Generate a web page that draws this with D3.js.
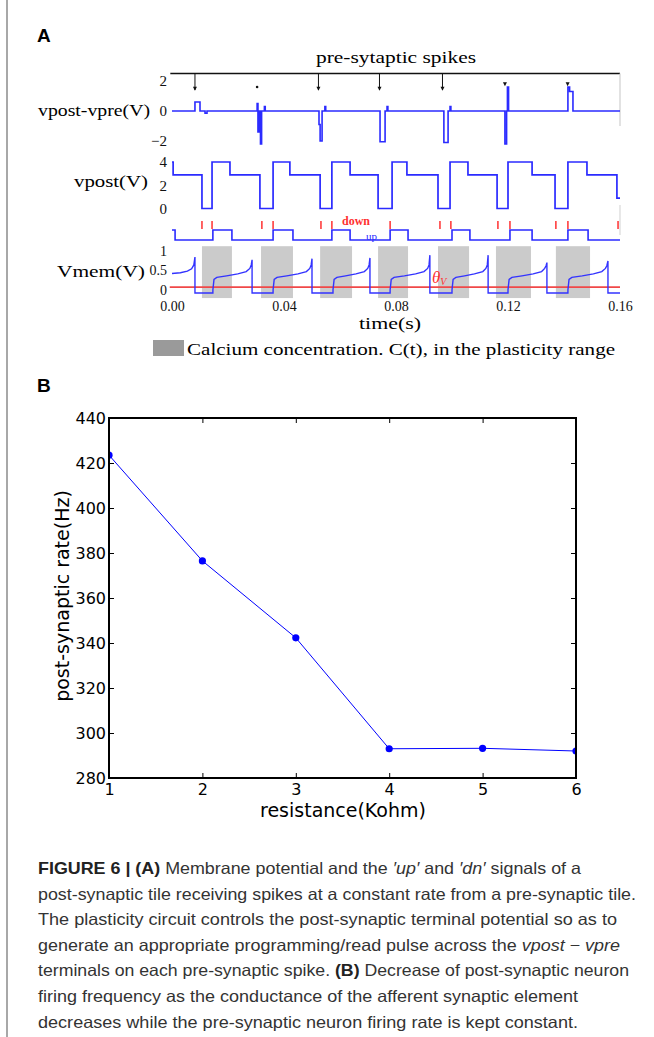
<!DOCTYPE html>
<html>
<head>
<meta charset="utf-8">
<script src="https://cdn.jsdelivr.net/npm/d3@7"></script>
<style>
body { margin: 0; background: #fff; }
svg { display: block; }
</style>
</head>
<body>
<div id="figure"></div>
<script>
// ---------- panel A data (time in s) ----------
const timeTicks = [0.00, 0.04, 0.08, 0.12, 0.16];
const diffTicks = [-2, 0, 2];
const postTicks = [0, 2, 4];
const memTicks = [0, 0.5, 1];

const spikeTimes = [0.0082, 0.0304, 0.0523, 0.0741, 0.0966, 0.1189, 0.1413];
const spikeKinds = ["arrow", "dot", "arrow", "arrow", "arrow", "head", "head"];

// vpost - vpre (V)
const vdiffTrace = [
  [0, 0], [0.0082, 0], [0.0082, 0.6], [0.0100, 0.6], [0.0100, 0], [0.0118, 0], [0.0118, -0.15], [0.0125, -0.15], [0.0125, 0],
  [0.0304, 0], [0.0304, 0.5], [0.0307, 0.5], [0.0307, -1.4], [0.0311, -1.4], [0.0311, 0], [0.0316, 0], [0.0316, -2.2], [0.0320, -2.2], [0.0320, 0],
  [0.0330, 0], [0.0330, 0.3], [0.0333, 0.3], [0.0333, 0],
  [0.0525, 0], [0.0525, -0.9], [0.0529, -0.9], [0.0529, -2.0], [0.0536, -2.0], [0.0536, 0], [0.0546, 0], [0.0546, 0.3], [0.0549, 0.3], [0.0549, 0],
  [0.0743, 0], [0.0743, -2.05], [0.0761, -2.05], [0.0761, 0], [0.0768, 0], [0.0768, 0.3], [0.0771, 0.3], [0.0771, 0],
  [0.0971, 0], [0.0971, -2.1], [0.0986, -2.1], [0.0986, 0], [0.0993, 0], [0.0993, 0.3], [0.0996, 0.3], [0.0996, 0],
  [0.1189, 0], [0.1189, -2.2], [0.1195, -2.2], [0.1195, 0], [0.1198, 0], [0.1198, 1.6], [0.1202, 1.6], [0.1202, 0],
  [0.1414, 0], [0.1414, 1.6], [0.1420, 1.6], [0.1420, 1.3], [0.1432, 1.3], [0.1432, 0], [0.1600, 0]
];

// vpost (V), level holds from each time until the next one
const vpostTimes = [0, 0.0004, 0.0107, 0.0143, 0.0207, 0.0314, 0.0361, 0.0421, 0.0529, 0.0571, 0.0636, 0.0736, 0.0786,
  0.0839, 0.0950, 0.0993, 0.1057, 0.1161, 0.1200, 0.1286, 0.1368, 0.1414, 0.1482, 0.1589, 0.1600];
const vpostLevels = [4, 2.9, 0, 4, 2.9, 0, 4, 2.9, 0, 4, 2.9, 0, 4,
  2.9, 0, 4, 2.9, 0, 4, 2.9, 0, 4, 2.9, 0.9, 0.9];

// 'up' logic signal
const upTimes = [0, 0.0011, 0.0146, 0.0214, 0.0361, 0.0432, 0.0571, 0.0636, 0.0779, 0.0843, 0.1000, 0.1064,
  0.1207, 0.1286, 0.1414, 0.1486, 0.1600];
const upLevels = [1, 0, 1, 0, 1, 0, 1, 0, 1, 0, 1, 0, 1, 0, 1, 0, 0];

// 'down' pulses
const downTimes = [0.0107, 0.0143, 0.0321, 0.0361, 0.0532, 0.0571, 0.0779, 0.0957, 0.0996, 0.1164, 0.1207, 0.1371, 0.1414, 0.1593];

// calcium in plasticity range
const calciumBands = [[0.0107, 0.0214], [0.0318, 0.0432], [0.0529, 0.0643], [0.0736, 0.0843],
  [0.0950, 0.1061], [0.1157, 0.1282], [0.1371, 0.1493]];

// membrane potential Vmem (V)
const vmemTrace = [
  [0, 0.50], [0.0030, 0.52], [0.0055, 0.56], [0.0070, 0.62], [0.0078, 0.72], [0.0082, 0.92], [0.0082, 0],
  [0.0146, 0], [0.0146, 0.08], [0.0150, 0.35], [0.0160, 0.40], [0.0195, 0.44], [0.0235, 0.49], [0.0265, 0.55], [0.0278, 0.63], [0.0283, 0.72], [0.0286, 0.85], [0.0286, 0],
  [0.0361, 0], [0.0361, 0.08], [0.0365, 0.35], [0.0375, 0.40], [0.0410, 0.44], [0.0450, 0.49], [0.0480, 0.55], [0.0492, 0.63], [0.0497, 0.72], [0.0500, 0.88], [0.0500, 0],
  [0.0575, 0], [0.0575, 0.08], [0.0579, 0.35], [0.0589, 0.40], [0.0620, 0.44], [0.0657, 0.49], [0.0687, 0.55], [0.0699, 0.63], [0.0704, 0.72], [0.0707, 0.90], [0.0707, 0],
  [0.0779, 0], [0.0779, 0.08], [0.0783, 0.35], [0.0793, 0.40], [0.0830, 0.44], [0.0870, 0.49], [0.0900, 0.55], [0.0913, 0.63], [0.0918, 0.72], [0.0921, 0.97], [0.0921, 0],
  [0.1000, 0], [0.1000, 0.08], [0.1004, 0.35], [0.1014, 0.40], [0.1045, 0.44], [0.1080, 0.49], [0.1110, 0.55], [0.1121, 0.63], [0.1126, 0.72], [0.1129, 0.97], [0.1129, 0],
  [0.1200, 0], [0.1200, 0.08], [0.1204, 0.35], [0.1214, 0.40], [0.1250, 0.44], [0.1290, 0.49], [0.1320, 0.55], [0.1331, 0.63], [0.1336, 0.70], [0.1339, 0.78], [0.1339, 0],
  [0.1414, 0], [0.1414, 0.08], [0.1418, 0.35], [0.1428, 0.40], [0.1465, 0.44], [0.1505, 0.49], [0.1535, 0.55], [0.1548, 0.63], [0.1553, 0.70], [0.1557, 0.82], [0.1557, 0], [0.1600, 0]
];
const thetaV = 0.15;

// ---------- panel B data ----------
const resistance = [1, 2, 3, 4, 5, 6];
const postRate = [423.5, 376.5, 342.3, 293.0, 293.2, 292.0];
const resTicks = [1, 2, 3, 4, 5, 6];
const rateTicks = [280, 300, 320, 340, 360, 380, 400, 420, 440];

// ---------- caption ----------
const captionLines = [
  [["FIGURE 6 | (A)", "b"], [" Membrane potential and the ", ""], ["\u2032up\u2032", "i"], [" and ", ""], ["\u2032dn\u2032", "i"], [" signals of a", ""]],
  [["post-synaptic tile receiving spikes at a constant rate from a pre-synaptic tile.", ""]],
  [["The plasticity circuit controls the post-synaptic terminal potential so as to", ""]],
  [["generate an appropriate programming/read pulse across the ", ""], ["vpost \u2212 vpre", "i"]],
  [["terminals on each pre-synaptic spike. ", ""], ["(B)", "b"], [" Decrease of post-synaptic neuron", ""]],
  [["firing frequency as the conductance of the afferent synaptic element", ""]],
  [["decreases while the pre-synaptic neuron firing rate is kept constant.", ""]]
];
const captionWidths = [543, 598, 579, 582, 591, 540, 540];

const serif = "'Liberation Serif', 'Times New Roman', serif";
const sans = "'DejaVu Sans', sans-serif";

const svg = d3.select("#figure").append("svg")
    .attr("width", 654)
    .attr("height", 1037);

// page rule on the left
svg.append("line")
    .attr("x1", 7).attr("x2", 7).attr("y1", 0).attr("y2", 1037)
    .attr("stroke", "#a8a8a8").attr("stroke-width", 2);

function styleTicks(sel, size, family) {
    sel.select(".domain").remove();
    sel.attr("font-size", size).attr("font-family", family);
    sel.selectAll("text")
        .style("font-size", size + "px")
        .style("font-family", family)
        .attr("fill", "#111");
}

function drawPanelA() {
    const x = d3.scaleLinear().domain([0, 0.16]).range([172, 620]);
    const yDiff = d3.scaleLinear().domain([-2.5, 2.5]).range([148.5, 73.5]);
    const yPost = d3.scaleLinear().domain([0, 4]).range([208.5, 162]);
    const yLogic = d3.scaleLinear().domain([0, 2]).range([240, 220]);
    const yMem = d3.scaleLinear().domain([0, 1]).range([293, 254]);
    const blue = "#2b2bff", red = "#ff3030";

    const g = svg.append("g");

    g.append("text").attr("x", 37).attr("y", 42)
        .attr("font-family", "'Liberation Sans', Arial, sans-serif").attr("font-weight", "bold")
        .attr("font-size", 19).text("A");

    // calcium bands
    g.selectAll(".band").data(calciumBands).enter().append("rect")
        .attr("x", d => x(d[0]))
        .attr("width", d => x(d[1]) - x(d[0]))
        .attr("y", yMem(1.2))
        .attr("height", yMem(-0.13) - yMem(1.2))
        .attr("fill", "#cbcbcb");

    // spike header line
    g.append("line").attr("x1", x(-0.0006)).attr("x2", x(0.16))
        .attr("y1", yDiff(2.5)).attr("y2", yDiff(2.5))
        .attr("stroke", "#111").attr("stroke-width", 1.3);
    g.append("line").attr("x1", x(0.16)).attr("x2", x(0.16))
        .attr("y1", yDiff(2.5)).attr("y2", yDiff(-1))
        .attr("stroke", "#cfcfcf").attr("stroke-width", 1.2);
    g.append("line").attr("x1", x(0.16)).attr("x2", x(0.16))
        .attr("y1", yPost(0.3)).attr("y2", yLogic(0.5))
        .attr("stroke", "#d8d8d8").attr("stroke-width", 1.2);

    const spikes = g.selectAll(".spike").data(spikeTimes.map((t, i) => ({t: t, kind: spikeKinds[i]})))
        .enter().append("g");
    spikes.filter(d => d.kind === "arrow").append("line")
        .attr("x1", d => x(d.t)).attr("x2", d => x(d.t))
        .attr("y1", yDiff(2.5)).attr("y2", yDiff(1.4))
        .attr("stroke", "#111").attr("stroke-width", 1);
    spikes.filter(d => d.kind !== "dot").append("path")
        .attr("d", d => {
            const cx = x(d.t), tip = yDiff(d.kind === "arrow" ? 1.35 : 1.65);
            return `M${cx - 2},${tip - 4}L${cx + 2},${tip - 4}L${cx},${tip}Z`;
        })
        .attr("fill", "#111");
    spikes.filter(d => d.kind === "dot").append("circle")
        .attr("cx", d => x(d.t)).attr("cy", yDiff(1.6)).attr("r", 1.3).attr("fill", "#111");

    g.append("text").attr("x", 396).attr("y", 63).attr("text-anchor", "middle")
        .attr("font-family", serif).attr("font-size", 17)
        .attr("textLength", 160).attr("lengthAdjust", "spacingAndGlyphs")
        .text("pre-sytaptic spikes");

    // traces
    const line = (yScale) => d3.line().x(d => x(d[0])).y(d => yScale(d[1]));
    const stepLine = (yScale) => d3.line().x(d => x(d[0])).y(d => yScale(d[1])).curve(d3.curveStepAfter);

    g.append("path").datum(vdiffTrace)
        .attr("d", line(yDiff)).attr("fill", "none")
        .attr("stroke", blue).attr("stroke-width", 1.6);

    g.append("path").datum(vpostTimes.map((t, i) => [t, vpostLevels[i]]))
        .attr("d", stepLine(yPost)).attr("fill", "none")
        .attr("stroke", blue).attr("stroke-width", 1.7);

    g.append("path").datum(upTimes.map((t, i) => [t, upLevels[i]]))
        .attr("d", stepLine(yLogic)).attr("fill", "none")
        .attr("stroke", blue).attr("stroke-width", 1.6);

    g.selectAll(".down").data(downTimes).enter().append("line")
        .attr("x1", d => x(d)).attr("x2", d => x(d))
        .attr("y1", yLogic(1.1)).attr("y2", yLogic(1.9))
        .attr("stroke", red).attr("stroke-width", 1.5);

    g.append("text").attr("x", 342).attr("y", 225)
        .attr("font-family", serif).attr("font-size", 12).attr("font-weight", "bold")
        .attr("fill", red).text("down");
    g.append("text").attr("x", 366).attr("y", 240)
        .attr("font-family", serif).attr("font-size", 11)
        .attr("fill", blue).text("up");

    g.append("line").attr("x1", x(-0.0008)).attr("x2", x(0.16))
        .attr("y1", yMem(thetaV)).attr("y2", yMem(thetaV))
        .attr("stroke", "#f04848").attr("stroke-width", 1.8);

    g.append("path").datum(vmemTrace)
        .attr("d", line(yMem)).attr("fill", "none")
        .attr("stroke", "#3333ff").attr("stroke-width", 1.4);

    const th = g.append("text").attr("x", 432).attr("y", 283)
        .attr("font-family", serif).attr("font-style", "italic")
        .attr("fill", red).attr("font-size", 17);
    th.append("tspan").text("\u03b8");
    th.append("tspan").attr("font-size", 10).attr("dy", 2).text("V");

    // tick labels
    g.append("g").attr("transform", "translate(167,0)")
        .call(d3.axisLeft(yDiff).tickValues(diffTicks).tickSize(0).tickPadding(0).tickFormat(d3.format("d")))
        .call(s => styleTicks(s, 15, serif));
    g.append("g").attr("transform", "translate(167,0)")
        .call(d3.axisLeft(yPost).tickValues(postTicks).tickSize(0).tickPadding(0).tickFormat(d3.format("d")))
        .call(s => styleTicks(s, 15, serif));
    g.append("g").attr("transform", "translate(167,-3)")
        .call(d3.axisLeft(yMem).tickValues(memTicks).tickSize(0).tickPadding(0).tickFormat(d3.format("")))
        .call(s => styleTicks(s, 14, serif));
    g.append("g").attr("transform", "translate(0,301)")
        .call(d3.axisBottom(x).tickValues(timeTicks).tickSize(0).tickPadding(0).tickFormat(d3.format(".2f")))
        .call(s => styleTicks(s, 14, serif));

    // axis titles
    const titles = [
        {text: "vpost-vpre(V)", x: 150, y: 116, w: 112},
        {text: "vpost(V)", x: 148, y: 187, w: 74},
        {text: "Vmem(V)", x: 145, y: 277, w: 88}
    ];
    g.selectAll(".ytitle").data(titles).enter().append("text")
        .attr("x", d => d.x).attr("y", d => d.y).attr("text-anchor", "end")
        .attr("font-family", serif).attr("font-size", 17)
        .attr("textLength", d => d.w).attr("lengthAdjust", "spacingAndGlyphs")
        .text(d => d.text);

    g.append("text").attr("x", 390).attr("y", 329).attr("text-anchor", "middle")
        .attr("font-family", serif).attr("font-size", 17)
        .attr("textLength", 62).attr("lengthAdjust", "spacingAndGlyphs")
        .text("time(s)");

    // legend
    g.append("rect").attr("x", 153).attr("y", 340).attr("width", 31).attr("height", 16).attr("fill", "#9a9a9a");
    g.append("text").attr("x", 187).attr("y", 355)
        .attr("font-family", serif).attr("font-size", 17)
        .attr("textLength", 428).attr("lengthAdjust", "spacingAndGlyphs")
        .text("Calcium concentration. C(t), in the plasticity range");
}

function drawPanelB() {
    const x = d3.scaleLinear().domain([1, 6]).range([109, 576]);
    const y = d3.scaleLinear().domain([280, 440]).range([778, 418]);

    const g = svg.append("g");

    g.append("text").attr("x", 37).attr("y", 392)
        .attr("font-family", "'Liberation Sans', Arial, sans-serif").attr("font-weight", "bold")
        .attr("font-size", 19).text("B");

    g.append("clipPath").attr("id", "plotClip").append("rect")
        .attr("x", 109).attr("y", 418).attr("width", 467).attr("height", 360);

    const data = resistance.map((r, i) => ({r: r, rate: postRate[i]}));
    const plot = g.append("g").attr("clip-path", "url(#plotClip)");
    plot.append("path").datum(data)
        .attr("d", d3.line().x(d => x(d.r)).y(d => y(d.rate)))
        .attr("fill", "none").attr("stroke", "#0000ff").attr("stroke-width", 1);
    plot.selectAll(".dot").data(data).enter().append("circle")
        .attr("cx", d => x(d.r)).attr("cy", d => y(d.rate)).attr("r", 3.6)
        .attr("fill", "#0000ff");

    const tickStyle = s => {
        s.select(".domain").remove();
        s.selectAll("line").attr("stroke", "#000").attr("stroke-width", 1);
        s.attr("font-size", 16).attr("font-family", sans);
        s.selectAll("text").style("font-size", "16px").style("font-family", sans).attr("fill", "#000");
    };
    g.append("g").attr("transform", "translate(0,778)")
        .call(d3.axisBottom(x).tickValues(resTicks).tickSizeInner(-5).tickSizeOuter(0).tickPadding(6).tickFormat(d3.format("d")))
        .call(tickStyle);
    g.append("g").attr("transform", "translate(0,418)")
        .call(d3.axisTop(x).tickValues(resTicks).tickSizeInner(-5).tickSizeOuter(0).tickFormat(""))
        .call(tickStyle);
    g.append("g").attr("transform", "translate(109,0)")
        .call(d3.axisLeft(y).tickValues(rateTicks).tickSizeInner(-5).tickSizeOuter(0).tickPadding(3))
        .call(tickStyle);
    g.append("g").attr("transform", "translate(576,0)")
        .call(d3.axisRight(y).tickValues(rateTicks).tickSizeInner(-5).tickSizeOuter(0).tickFormat(""))
        .call(tickStyle);

    g.append("rect").attr("x", 109).attr("y", 418).attr("width", 467).attr("height", 360)
        .attr("fill", "none").attr("stroke", "#000").attr("stroke-width", 2);

    g.append("text").attr("x", 343).attr("y", 817).attr("text-anchor", "middle")
        .attr("font-family", sans).attr("font-size", 19).text("resistance(Kohm)");
    g.append("text").attr("transform", "translate(62,596) rotate(-90)")
        .attr("text-anchor", "middle").attr("dy", "0.35em")
        .attr("font-family", sans).attr("font-size", 19).text("post-synaptic rate(Hz)");
}

function drawCaption() {
    const g = svg.append("g");
    captionLines.forEach((parts, i) => {
        const t = g.append("text")
            .attr("x", 38).attr("y", 874 + i * 25.6)
            .attr("font-family", "'Liberation Sans', Arial, sans-serif")
            .attr("font-size", 16.5).attr("fill", "#333")
            .attr("textLength", captionWidths[i]).attr("lengthAdjust", "spacingAndGlyphs");
        parts.forEach(p => {
            const s = t.append("tspan").text(p[0]);
            if (p[1] === "b") s.attr("font-weight", "bold").attr("fill", "#222");
            if (p[1] === "i") s.attr("font-style", "italic");
        });
    });
}

drawPanelA();
drawPanelB();
drawCaption();
</script>
</body>
</html>
